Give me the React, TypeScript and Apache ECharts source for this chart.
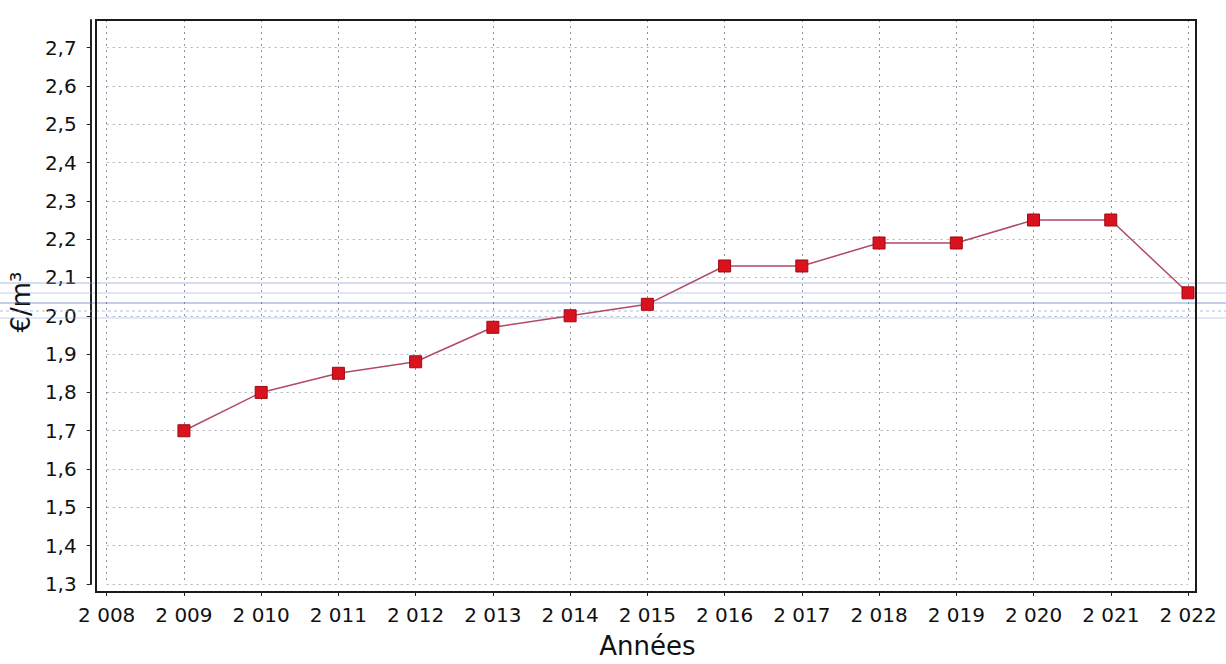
import React, { useEffect, useRef } from "react";
import * as echarts from "echarts";

const years: number[] = [2009, 2010, 2011, 2012, 2013, 2014, 2015, 2016, 2017, 2018, 2019, 2020, 2021, 2022];
const prices: number[] = [1.70, 1.80, 1.85, 1.88, 1.97, 2.00, 2.03, 2.13, 2.13, 2.19, 2.19, 2.25, 2.25, 2.06];
const xTitle = "Années";
const yTitle = "€/m³";

export default function App() {
  const ref = useRef<HTMLDivElement>(null);
  useEffect(() => {
    if (!ref.current) return;
    const chart = echarts.init(ref.current, undefined, { renderer: "svg" });
    const font = "DejaVu Sans";
    const scan = "rgba(140,160,215,0.35)";
    chart.setOption({
      animation: false,
      backgroundColor: "#ffffff",
      grid: { left: 106, right: 38, top: 20, bottom: 72, containLabel: false },
      xAxis: {
        type: "value",
        min: 2008,
        max: 2022,
        interval: 1,
        offset: 8,
        name: xTitle,
        nameLocation: "middle",
        nameGap: 41,
        nameTextStyle: { fontFamily: font, fontSize: 26, color: "#111" },
        axisLine: { show: true, lineStyle: { color: "#222", width: 2 } },
        axisTick: { show: true, length: 4, inside: false, lineStyle: { color: "#222" } },
        axisLabel: {
          fontFamily: font,
          fontSize: 20,
          color: "#111",
          margin: 13,
          formatter: (v: number) => String(v).replace(/^(\d)(\d{3})$/, "$1 $2"),
        },
        splitLine: { show: true, lineStyle: { color: "#8e92a8", type: [2, 4], width: 1 } },
      },
      yAxis: {
        type: "value",
        min: 1.3,
        max: 2.772,
        interval: 0.1,
        offset: 16,
        name: yTitle,
        nameLocation: "middle",
        nameGap: 46,
        nameTextStyle: { fontFamily: font, fontSize: 26, color: "#111" },
        axisLine: { show: true, lineStyle: { color: "#222", width: 2 } },
        axisTick: { show: true, length: 4, lineStyle: { color: "#222" } },
        axisLabel: {
          fontFamily: font,
          fontSize: 20,
          color: "#111",
          margin: 14,
          showMaxLabel: false,
          formatter: (v: number) => v.toFixed(1).replace(".", ","),
        },
        splitLine: { show: true, lineStyle: { color: "#aeb2c6", type: [2, 4], width: 1 } },
      },
      graphic: [
        { type: "rect", shape: { x: 96, y: 20, width: 1100, height: 572 }, style: { fill: "none", stroke: "#1a1a1a", lineWidth: 2 }, z: 100 },
        { type: "line", shape: { x1: 0, y1: 283, x2: 1226, y2: 283 }, style: { stroke: scan, lineWidth: 2 }, z: 90 },
        { type: "line", shape: { x1: 0, y1: 293, x2: 1226, y2: 293 }, style: { stroke: scan, lineWidth: 1.5 }, z: 90 },
        { type: "line", shape: { x1: 0, y1: 303, x2: 1226, y2: 303 }, style: { stroke: "rgba(100,125,200,0.5)", lineWidth: 1.5 }, z: 90 },
        { type: "line", shape: { x1: 0, y1: 311, x2: 1226, y2: 311 }, style: { stroke: scan, lineWidth: 2, lineDash: [3, 3] }, z: 90 },
        { type: "line", shape: { x1: 0, y1: 318, x2: 1226, y2: 318 }, style: { stroke: scan, lineWidth: 1.5 }, z: 90 },
      ],
      series: [
        {
          type: "line",
          data: years.map((y, i) => [y, prices[i]]),
          symbol: "rect",
          symbolSize: 12,
          itemStyle: { color: "#d8131f", borderColor: "#a00a12", borderWidth: 1 },
          lineStyle: { color: "#b04a66", width: 1.5 },
          z: 110,
        },
      ],
    });
    return () => chart.dispose();
  }, []);
  return <div ref={ref} style={{ width: 1226, height: 664, position: "absolute", left: 0, top: 0 }} />;
}
